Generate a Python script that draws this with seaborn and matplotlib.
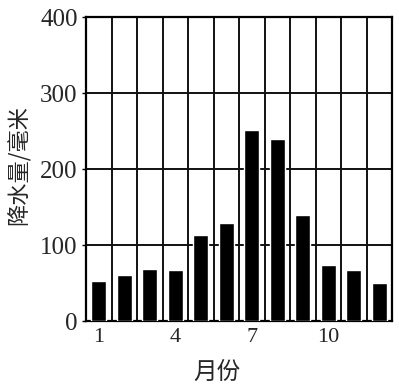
import matplotlib
matplotlib.use("Agg")
import matplotlib.pyplot as plt
import seaborn as sns
import pandas as pd

months = list(range(1, 13))
precip = [52, 60, 68, 67, 113, 129, 251, 240, 140, 74, 67, 50]
xtick_labels = ["1", "", "", "4", "", "", "7", "", "", "10", "", ""]
yticks = [0, 100, 200, 300, 400]

df = pd.DataFrame({"month": months, "precip": precip})

sns.set_theme(style="white")
plt.rcParams['font.family'] = ['Liberation Serif', 'Noto Sans CJK SC']

fig = plt.figure(figsize=(3.99, 3.86), dpi=100)
ax = fig.add_axes([86/399, 1-321/386, 306/399, 304/386])

sns.barplot(data=df, x="month", y="precip", color="black", width=0.59,
            saturation=1, ax=ax, zorder=3)

ax.set_xlim(-0.5, 11.5)
ax.set_ylim(0, 400)
for i in range(1, 12):
    ax.axvline(i - 0.5, color="#111111", lw=1.4, zorder=1)
for v in [100, 200, 300]:
    ax.axhline(v, color="#111111", lw=1.4, zorder=1)

ax.set_xticks(range(12))
ax.set_xticklabels(xtick_labels, fontsize=16)
ax.set_yticks(yticks)
ax.set_yticklabels([str(v) for v in yticks], fontsize=18)
ax.tick_params(axis="x", length=0, pad=5)
ax.tick_params(axis="y", length=3, width=1, direction="out", pad=3, left=True, color="black")

for s in ax.spines.values():
    s.set_color("black")
    s.set_linewidth(1.6)
    s.set_visible(True)

ax.set_ylabel("降水量/毫米", fontsize=16, family=['Noto Sans CJK SC'])
ax.set_xlabel("月份", fontsize=17, family=['Noto Sans CJK SC'])
ax.yaxis.set_label_coords((19-86)/306, (321-165)/304)
ax.yaxis.label.set_va("center")
ax.xaxis.set_label_coords((217-86)/306, (321-372)/304)
ax.xaxis.label.set_va("center")

fig.savefig("out.png", dpi=100)
